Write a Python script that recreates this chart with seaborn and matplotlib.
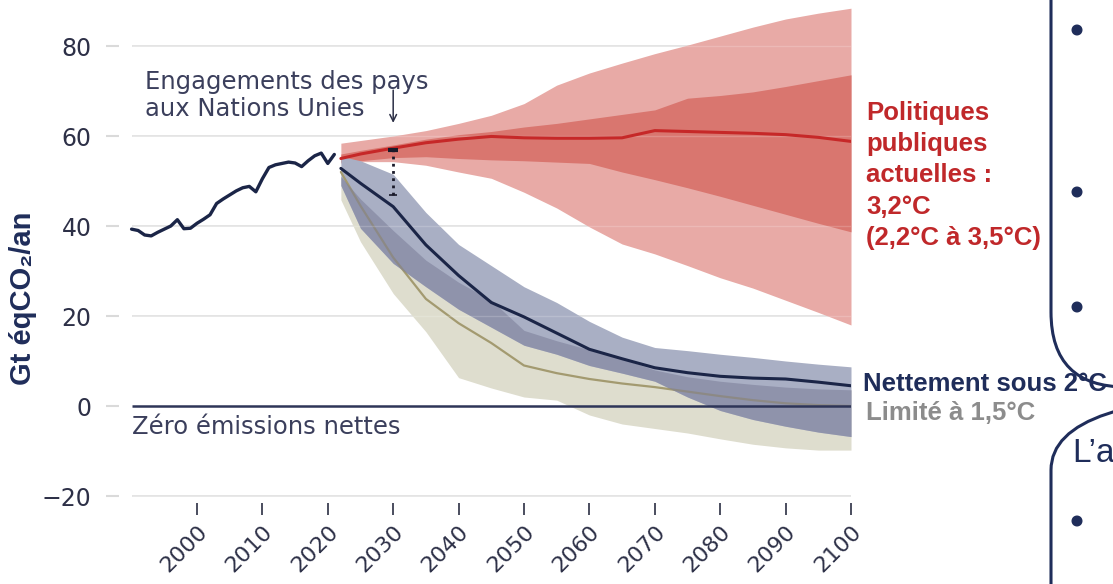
import numpy as np
import pandas as pd
import matplotlib
matplotlib.use("Agg")
import matplotlib.pyplot as plt
import matplotlib.patches as mpatches
import matplotlib.transforms as mtransforms
import seaborn as sns

# Historical emissions (Gt eqCO2 / an)
hist_years = list(range(1990, 2022))
hist_vals = [39.3, 39.0, 38.0, 37.8, 38.6, 39.3, 40.0, 41.4, 39.4, 39.5,
             40.6, 41.5, 42.5, 45.0, 46.0, 46.9, 47.8, 48.5, 48.8, 47.6,
             50.5, 53.0, 53.6, 53.9, 54.2, 54.0, 53.2, 54.5, 55.6, 56.2,
             53.9, 55.9]

# Scenario years
proj_years = [2022, 2025, 2030, 2035, 2040, 2045, 2050, 2055, 2060,
              2065, 2070, 2075, 2080, 2085, 2090, 2095, 2100]

# Politiques publiques actuelles
cur_mid = [55.0, 56.0, 57.3, 58.5, 59.3, 59.9, 59.6, 59.5, 59.5,
           59.6, 61.2, 61.0, 60.8, 60.6, 60.3, 59.7, 58.8]
cur_out_hi = [58.4, 59.0, 60.0, 61.2, 62.8, 64.6, 67.2, 71.3, 74.0,
              76.2, 78.3, 80.2, 82.2, 84.2, 86.0, 87.3, 88.4]
cur_out_lo = [54.3, 54.3, 54.3, 53.5, 52.0, 50.6, 47.5, 44.0, 39.8,
              36.0, 33.8, 31.2, 28.5, 26.2, 23.5, 20.8, 18.0]
cur_in_hi = [56.0, 56.8, 58.0, 59.3, 60.3, 61.0, 62.0, 62.8, 63.8,
             64.8, 65.8, 68.4, 69.0, 69.8, 71.0, 72.3, 73.6]
cur_in_lo = [54.0, 54.5, 55.2, 55.4, 55.0, 54.7, 54.5, 54.2, 53.9,
             52.0, 50.3, 48.5, 46.6, 44.6, 42.6, 40.6, 38.7]

# Nettement sous 2°C
wb2_mid = [52.8, 49.5, 44.3, 35.8, 29.0, 23.0, 19.8, 16.2, 12.6,
           10.5, 8.5, 7.4, 6.6, 6.2, 6.0, 5.3, 4.5]
wb2_hi = [55.5, 54.5, 51.5, 43.0, 35.9, 31.2, 26.5, 23.0, 18.8,
          15.3, 13.0, 12.3, 11.5, 10.8, 10.0, 9.3, 8.7]
wb2_lo = [49.0, 39.5, 31.7, 26.5, 21.5, 17.5, 13.5, 11.5, 9.0,
          7.3, 5.5, 2.0, -1.0, -3.0, -4.5, -5.8, -6.8]

# Limité à 1,5°C
c15_mid = [52.0, 44.5, 33.0, 23.8, 18.4, 14.0, 9.0, 7.3, 6.0,
           5.0, 4.2, 3.2, 2.2, 1.3, 0.6, 0.2, 0.0]
c15_hi = [51.0, 46.0, 39.0, 32.4, 27.5, 23.5, 16.8, 14.5, 12.5,
          10.5, 8.0, 6.5, 5.5, 4.8, 4.2, 3.8, 3.6]
c15_lo = [45.8, 36.5, 25.0, 16.5, 6.3, 4.0, 2.0, 1.3, -2.0,
          -4.0, -5.0, -6.0, -7.3, -8.5, -9.3, -9.8, -9.8]

# Engagements (NDC) gap in 2030
ndc_year = 2030
ndc_range = [47.0, 56.8]

y_ticks = [80, 60, 40, 20, 0, -20]
y_labels = ["80", "60", "40", "20", "0", "\u221220"]
x_ticks = list(range(2000, 2101, 10))

NAVY = "#1f2d5a"
TXT = "#2d3047"
RED = "#c0282a"

sns.set_theme(style="white")
plt.rcParams["font.family"] = ["DejaVu Sans"]
lab = ["Liberation Sans", "DejaVu Sans"]

proj = pd.DataFrame({
    "year": proj_years, "cur_mid": cur_mid, "cur_out_hi": cur_out_hi,
    "cur_out_lo": cur_out_lo, "cur_in_hi": cur_in_hi, "cur_in_lo": cur_in_lo,
    "wb2_mid": wb2_mid, "wb2_hi": wb2_hi, "wb2_lo": wb2_lo,
    "c15_mid": c15_mid, "c15_hi": c15_hi, "c15_lo": c15_lo,
})
hist = pd.DataFrame({"year": hist_years, "val": hist_vals})

fig = plt.figure(figsize=(11.13, 5.84), dpi=100)
ax = fig.add_axes([118.5 / 1113, 81.25 / 584, 732.5 / 1113, 501.75 / 584])
ax.set_xlim(1988, 2100)
ax.set_ylim(-21.5, 90)
sns.despine(ax=ax, left=True, bottom=True)

# grid lines (only over the data span)
grid_vals = [v for v in y_ticks if v != 0]
ax.hlines(grid_vals, 1990, 2100, color="#e2e2e2", lw=1.3, zorder=1)

yr = proj["year"]
# red bands
ax.fill_between(yr, proj["cur_out_lo"], proj["cur_out_hi"], color="#e8aaa6", lw=0, zorder=2)
ax.fill_between(yr, proj["cur_in_lo"], proj["cur_in_hi"], color="#d9766f", lw=0, zorder=3)
# 1.5°C band
ax.fill_between(yr, proj["c15_lo"], proj["c15_hi"], color="#deddce", lw=0, zorder=2)
# well below 2°C band + overlap
ax.fill_between(yr, proj["wb2_lo"], proj["wb2_hi"], color="#a9afc4", lw=0, zorder=3)
ov_lo = np.maximum(proj["wb2_lo"], proj["c15_lo"])
ov_hi = np.minimum(proj["wb2_hi"], proj["c15_hi"])
ax.fill_between(yr, ov_lo, ov_hi, where=ov_hi > ov_lo, interpolate=True,
                color="#7a7c98", alpha=0.55, lw=0, zorder=4)
# faint grid over the bands
ax.hlines(grid_vals, 1990, 2100, color="#ffffff", lw=1.0, alpha=0.18, zorder=5)

# zero line
ax.hlines(0, 1990, 2100, color="#2e3558", lw=1.8, zorder=6)

# median lines
sns.lineplot(data=proj, x="year", y="c15_mid", ax=ax, color="#a39a70", lw=1.6, zorder=3.5)
sns.lineplot(data=proj, x="year", y="wb2_mid", ax=ax, color="#1b2547", lw=2.2, zorder=7)
sns.lineplot(data=proj, x="year", y="cur_mid", ax=ax, color="#c62828", lw=2.2, zorder=7)
sns.lineplot(data=hist, x="year", y="val", ax=ax, color="#1b2547", lw=2.4, zorder=7)

# NDC gap bracket
ax.vlines(ndc_year, ndc_range[0], ndc_range[1], color="#1a1a2a", lw=2,
          linestyles=(0, (1, 1.6)), zorder=8)
ax.hlines(ndc_range[1], ndc_year - 0.8, ndc_year + 0.8, color="#1a1a2a", lw=3, zorder=8)
ax.hlines(ndc_range[0], ndc_year - 0.6, ndc_year + 0.6, color="#1a1a2a", lw=1.2, zorder=8)
ax.annotate("", xy=(ndc_year, 62.3), xytext=(ndc_year, 70.8),
            arrowprops=dict(arrowstyle="->", color="#2d3047", lw=1.1), zorder=8)

ax.text(1992.1, 64.4, "Engagements des pays\naux Nations Unies", color="#3b3f5c",
        fontsize=17.5, va="baseline", ha="left", linespacing=1.15)
ax.text(1990.1, -6.2, "Zéro émissions nettes", color="#3b3f5c",
        fontsize=17.5, va="baseline", ha="left")

# ticks
ax.set_yticks(y_ticks)
ax.set_yticklabels(y_labels)
ax.set_xticks(x_ticks)
ax.set_xticklabels([str(v) for v in x_ticks], rotation=45, ha="right",
                   va="top", rotation_mode="anchor")
ax.tick_params(axis="y", direction="out", length=9.5, width=1.5, color="#dadada",
               pad=10, labelsize=17, labelcolor=TXT, left=True)
ax.tick_params(axis="x", direction="out", length=8.5, width=1.4, color="#4a4d5e",
               pad=5, labelsize=16, labelcolor=TXT, bottom=True)
for t, v in zip(ax.yaxis.get_major_ticks(), y_ticks):
    if v == 0:
        t.tick1line.set_color("#4a4d5e")
ax.set_xlabel("")
ax.set_ylabel("")

fig.text(0.021, 0.49, "Gt éqCO₂/an", rotation=90, ha="center", va="center",
         fontsize=21, fontweight="bold", color=NAVY, family=lab)

fig.text(866 / 1113, 1 - 101 / 584, "Politiques\npubliques\nactuelles :\n3,2°C\n(2,2°C à 3,5°C)",
         ha="left", va="top", fontsize=18.5, fontweight="bold", color=RED,
         linespacing=1.38, family=lab)
fig.text(863 / 1113, 1 - 391 / 584, "Nettement sous 2°C", ha="left", va="baseline",
         fontsize=18.5, fontweight="bold", color=NAVY, family=lab)
fig.text(866 / 1113, 1 - 420 / 584, "Limité à 1,5°C", ha="left", va="baseline",
         fontsize=18.5, fontweight="bold", color="#8c8c8c", family=lab)

# slide boxes cropped on the right
ident = mtransforms.IdentityTransform()
box1 = mpatches.FancyBboxPatch((1051, 584 - 387), 300, 500,
                               boxstyle="round,pad=0,rounding_size=75",
                               fill=False, ec=NAVY, lw=2.2, transform=ident, zorder=20)
box2 = mpatches.FancyBboxPatch((1051, -300), 300, 300 + 584 - 395,
                               boxstyle="round,pad=0,rounding_size=75",
                               fill=False, ec=NAVY, lw=2.2, transform=ident, zorder=20)
fig.add_artist(box1)
fig.add_artist(box2)
for by in [30, 192, 307, 521]:
    fig.add_artist(mpatches.Circle((1077, 584 - by), 4.8, color=NAVY,
                                   transform=ident, zorder=20))
fig.text(1072 / 1113, 1 - 462 / 584, "L’a", ha="left", va="baseline",
         fontsize=24, color=NAVY, family=lab)

fig.savefig("out.png", dpi=100)
